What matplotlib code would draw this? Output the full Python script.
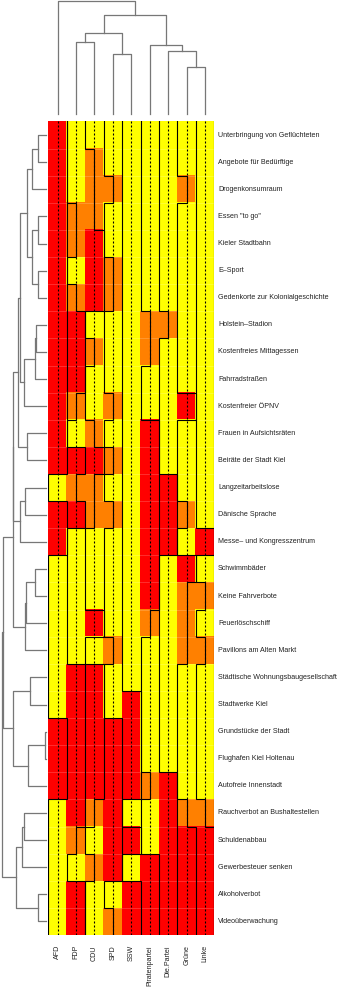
import numpy as np
import matplotlib
matplotlib.use("Agg")
import matplotlib.pyplot as plt
from matplotlib.colors import ListedColormap

plt.rcParams['font.family'] = ['Liberation Sans', 'DejaVu Sans']

# ---------------- data ----------------
parties = ["AFD", "FDP", "CDU", "SPD", "SSW", "Piratenpartei", "Die.Partei", "Grüne", "Linke"]

topics = [
    "Unterbringung von Geflüchteten",
    "Angebote für Bedürftige",
    "Drogenkonsumraum",
    "Essen \"to go\"",
    "Kieler Stadtbahn",
    "E\u2013Sport",
    "Gedenkorte zur Kolonialgeschichte",
    "Holstein\u2013Stadion",
    "Kostenfreies Mittagessen",
    "Fahrradstraßen",
    "Kostenfreier ÖPNV",
    "Frauen in Aufsichtsräten",
    "Beiräte der Stadt Kiel",
    "Langzeitarbeitslose",
    "Dänische Sprache",
    "Messe\u2013 und Kongresszentrum",
    "Schwimmbäder",
    "Keine Fahrverbote",
    "Feuerlöschschiff",
    "Pavillons am Alten Markt",
    "Städtische Wohnungsbaugesellschaft",
    "Stadtwerke Kiel",
    "Grundstücke der Stadt",
    "Flughafen Kiel Holtenau",
    "Autofreie Innenstadt",
    "Rauchverbot an Bushaltestellen",
    "Schuldenabbau",
    "Gewerbesteuer senken",
    "Alkoholverbot",
    "Videoüberwachung",
]

# 0 = yellow, 1 = orange, 2 = red ; columns in order of `parties`
votes = np.array([
    [2, 0, 0, 0, 0, 0, 0, 0, 0],
    [2, 0, 1, 0, 0, 0, 0, 0, 0],
    [2, 0, 1, 1, 0, 0, 0, 1, 0],
    [2, 1, 1, 0, 0, 0, 0, 0, 0],
    [2, 1, 2, 0, 0, 0, 0, 0, 0],
    [2, 0, 2, 1, 0, 0, 0, 0, 0],
    [2, 1, 2, 1, 0, 0, 0, 0, 0],
    [2, 2, 0, 0, 0, 1, 1, 0, 0],
    [2, 2, 1, 0, 0, 1, 0, 0, 0],
    [2, 2, 0, 0, 0, 0, 0, 0, 0],
    [2, 1, 0, 1, 0, 0, 0, 2, 0],
    [2, 0, 1, 0, 0, 2, 0, 0, 0],
    [2, 2, 2, 1, 0, 2, 0, 0, 0],
    [0, 1, 1, 0, 0, 2, 2, 0, 0],
    [2, 2, 1, 1, 0, 2, 2, 1, 0],
    [2, 0, 0, 0, 0, 2, 2, 0, 2],
    [0, 0, 0, 0, 0, 2, 0, 2, 0],
    [0, 0, 0, 0, 0, 2, 0, 1, 1],
    [0, 0, 2, 0, 0, 1, 0, 1, 0],
    [0, 0, 0, 1, 0, 0, 0, 1, 1],
    [0, 2, 2, 0, 0, 0, 0, 0, 0],
    [0, 2, 2, 0, 2, 0, 0, 0, 0],
    [2, 2, 2, 2, 2, 0, 0, 0, 0],
    [2, 2, 2, 2, 2, 0, 0, 0, 0],
    [2, 2, 2, 2, 2, 1, 2, 0, 0],
    [0, 2, 1, 2, 0, 0, 2, 1, 1],
    [0, 1, 0, 2, 2, 0, 2, 2, 2],
    [0, 0, 1, 2, 0, 2, 2, 2, 2],
    [0, 2, 0, 0, 2, 2, 2, 2, 2],
    [0, 2, 0, 1, 2, 2, 2, 2, 2],
])

vote_colors = ["#FFFF00", "#FF8000", "#FF0000"]

# row dendrogram merges: (child_a, child_b, height); leaves 0..29, merge k gets id 30+k
row_merges = [
    (0, 1, 7.7), (30, 2, 13.7), (3, 4, 7.7), (5, 6, 7.7), (32, 33, 13.7),
    (31, 34, 19.3), (7, 8, 10.3), (36, 9, 11.0), (37, 10, 22.0), (35, 38, 26.0),
    (11, 12, 19.3), (39, 40, 27.7), (13, 14, 21.0), (42, 15, 26.0), (41, 43, 33.1),
    (16, 17, 11.0), (45, 18, 19.7), (46, 19, 20.7), (44, 47, 33.4), (20, 21, 16.0),
    (22, 23, 0.8), (50, 24, 17.7), (49, 51, 32.7), (48, 52, 42.7), (25, 26, 22.0),
    (54, 27, 24.3), (28, 29, 7.7), (55, 56, 30.3), (53, 57, 44.5),
]

# column dendrogram merges; leaves 0..8, merge k gets id 9+k
col_merges = [
    (1, 2, 72.0), (3, 4, 60.0), (9, 10, 81.7), (7, 8, 47.3), (6, 12, 63.3),
    (5, 13, 69.0), (11, 14, 99.0), (0, 15, 113.0),
]

# ---------------- figure ----------------
W, H = 343, 988
fig = plt.figure(figsize=(W / 100, H / 100), dpi=100)

hm_l, hm_r, hm_t, hm_b = 48.3, 214.3, 121.5, 935.0
ax = fig.add_axes([hm_l / W, 1 - hm_b / H, (hm_r - hm_l) / W, (hm_b - hm_t) / H])
nrow, ncol = votes.shape
cmap = ListedColormap(vote_colors)
ax.imshow(votes, cmap=cmap, vmin=-0.5, vmax=2.5, aspect='auto',
          extent=(0, ncol, nrow, 0), interpolation='nearest')
ax.set_xlim(0, ncol)
ax.set_ylim(nrow, 0)
ax.axis('off')

# faint cell separators (as in the original raster)
for r in range(1, nrow):
    ax.axhline(r, color='white', lw=0.5, alpha=0.25)

vmin, vmax = votes.min(), votes.max()
for j in range(ncol):
    ax.axvline(j + 0.5, color='black', lw=0.8, linestyle=(0, (1.8, 1.8)))
    xv = j + (votes[:, j] - vmin) / (vmax - vmin)
    xs = np.repeat(xv, 2)
    ys = np.repeat(np.arange(nrow + 1), 2)[1:-1]
    ax.plot(xs, ys, color='black', lw=0.8, solid_joinstyle='miter')
ax.axvline(ncol, color='black', lw=0.8)

# row labels
for r, lab in enumerate(topics):
    ax.annotate(lab, xy=(1.0, r + 0.5), xycoords=ax.get_yaxis_transform(),
                xytext=(2.6, 0), textcoords='offset points',
                ha='left', va='center', fontsize=5.1, color='#222222')
# column labels
for j, lab in enumerate(parties):
    ax.annotate(lab, xy=(j + 0.5, 0.0), xycoords=ax.get_xaxis_transform(),
                xytext=(0, -7.2), textcoords='offset points',
                ha='center', va='top', rotation=90, fontsize=5.1, color='#222222')


def dendro_segments(n, merges):
    pos = {i: i + 0.5 for i in range(n)}
    hgt = {i: 0.0 for i in range(n)}
    segs = []
    for k, (a, b, h) in enumerate(merges):
        segs.append(((hgt[a], pos[a]), (h, pos[a]), (h, pos[b]), (hgt[b], pos[b])))
        pos[n + k] = (pos[a] + pos[b]) / 2
        hgt[n + k] = h
    return segs


dcol = '#777777'
# row dendrogram
axr = fig.add_axes([0, 1 - hm_b / H, hm_l / W, (hm_b - hm_t) / H])
for seg in dendro_segments(nrow, row_merges):
    xs = [p[0] for p in seg]
    ys = [p[1] for p in seg]
    axr.plot(xs, ys, color=dcol, lw=0.9)
axr.set_ylim(nrow, 0)
axr.set_xlim(46.0, -2.3)
axr.axis('off')

# column dendrogram
axc = fig.add_axes([hm_l / W, 1 - hm_t / H, (hm_r - hm_l) / W, hm_t / H])
for seg in dendro_segments(ncol, col_merges):
    xs = [p[1] for p in seg]
    ys = [p[0] for p in seg]
    axc.plot(xs, ys, color=dcol, lw=0.9)
axc.set_xlim(0, ncol)
axc.set_ylim(114.3 - hm_t, 114.3)
axc.axis('off')

fig.savefig("out.png", dpi=100)
